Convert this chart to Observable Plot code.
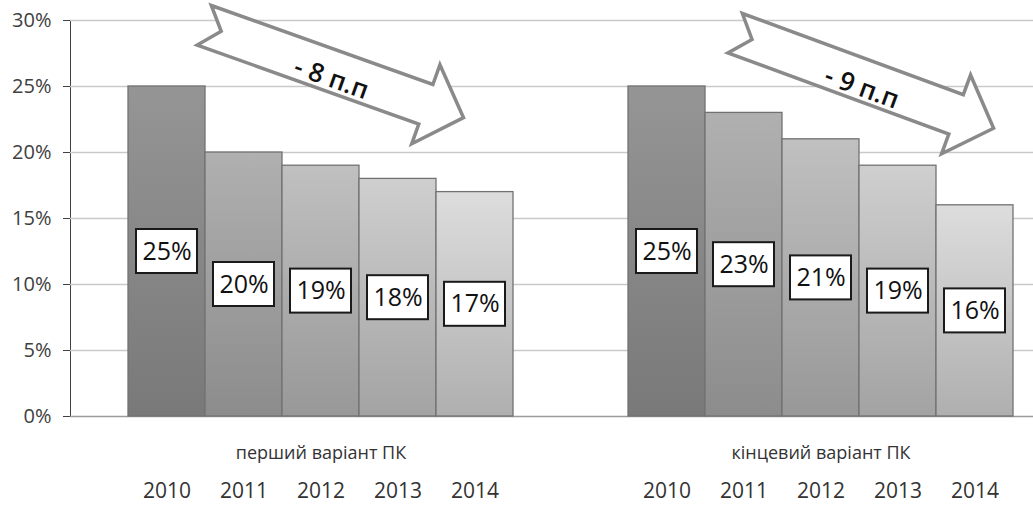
<!DOCTYPE html>
<html>
<head>
<meta charset="utf-8">
<script src="https://cdn.jsdelivr.net/npm/d3@7"></script>
<script src="https://cdn.jsdelivr.net/npm/@observablehq/plot@0.6"></script>
<style>
  html, body { margin: 0; padding: 0; background: #fff; }
  #chart svg { display: block; }
  #chart svg [aria-label^="y-axis"] { font-size: 20px; }
</style>
</head>
<body>
<div id="chart"></div>
<script>
const groups = ["перший варіант ПК", "кінцевий варіант ПК"];
const years = ["2010", "2011", "2012", "2013", "2014"];
const firstVariant = [25, 20, 19, 18, 17];
const finalVariant = [25, 23, 21, 19, 16];
const yTicks = [0, 5, 10, 15, 20, 25, 30];
const barTop = ["#959595", "#b0b0b0", "#c0c0c0", "#cfcfcf", "#dddddd"];
const barBottom = ["#797979", "#8c8c8c", "#989898", "#a3a3a3", "#afafaf"];
const arrowLabels = ["- 8 п.п", "- 9 п.п"];
const arrowTail = [{year: "2010", frac: 1.0, v: 29.6}, {year: "2011", frac: 0.4, v: 29.0}];
const arrowTip = [{year: "2014", frac: 0.36, v: 22.6}, {year: "2014", frac: 0.75, v: 21.8}];

const rows = [];
years.forEach((y, i) => rows.push({group: groups[0], year: y, v: firstVariant[i]}));
years.forEach((y, i) => rows.push({group: groups[1], year: y, v: finalVariant[i]}));

const plot = Plot.plot({
  width: 1033,
  height: 509,
  marginTop: 20,
  marginBottom: 93,
  marginLeft: 70,
  marginRight: -37,
  style: {fontFamily: "'Open Sans', sans-serif", fontSize: "19px", color: "#404040", background: "#fff"},
  facet: {data: rows, x: "group"},
  fx: {domain: groups, padding: 0, axis: null},
  x: {domain: years, paddingInner: 0, paddingOuter: 0.74, axis: null},
  y: {domain: [0, 30], ticks: yTicks, tickFormat: d => d + "%", tickSize: 7, tickPadding: 12, line: true, label: null},
  color: {type: "identity"},
  marks: [
    Plot.ruleY(yTicks.filter(t => t > 0), {stroke: "#c9c9c9", strokeWidth: 1.7}),
    Plot.ruleY([0], {stroke: "#9c9c9c", strokeWidth: 1.7}),
    Plot.barY(rows, {x: "year", y: "v", fill: d => `url(#bar-${d.year})`, stroke: "#727272", strokeWidth: 1.3}),
    Plot.barY(rows, {x: "year", y1: d => d.v / 2, y2: d => d.v / 2, insetTop: -22, insetBottom: -22, insetLeft: 8, insetRight: 8, fill: "white", stroke: "#1a1a1a", strokeWidth: 2}),
    Plot.text(rows, {x: "year", y: d => d.v / 2, text: d => d.v + "%", fontSize: 25, fill: "#111"}),
    Plot.text(rows, {filter: d => d.year === "2012", x: "year", text: "group", frameAnchor: "bottom", dy: 42, fontSize: 18, fill: "#333"}),
    Plot.text(rows, {x: "year", text: "year", frameAnchor: "bottom", dy: 81, fontSize: 21, fill: "#333"})
  ]
});

document.getElementById("chart").appendChild(plot);
const svg = plot.tagName.toLowerCase() === "svg" ? plot : plot.querySelector("svg");
const ns = "http://www.w3.org/2000/svg";
const defs = document.createElementNS(ns, "defs");
years.forEach((y, i) => {
  const g = document.createElementNS(ns, "linearGradient");
  g.setAttribute("id", "bar-" + y);
  g.setAttribute("x1", "0"); g.setAttribute("y1", "0");
  g.setAttribute("x2", "0"); g.setAttribute("y2", "1");
  [[0, barTop[i]], [1, barBottom[i]]].forEach(([o, c]) => {
    const s = document.createElementNS(ns, "stop");
    s.setAttribute("offset", o);
    s.setAttribute("stop-color", c);
    g.appendChild(s);
  });
  defs.appendChild(g);
});
svg.insertBefore(defs, svg.firstChild);

// annotation arrows positioned through the plot's scales
function band(s) {
  return d3.scaleBand(s.domain, s.range)
    .paddingInner(s.paddingInner ?? s.padding ?? 0)
    .paddingOuter(s.paddingOuter ?? s.padding ?? 0)
    .align(s.align ?? 0.5);
}
const fxB = band(plot.scale("fx"));
const xB = band(plot.scale("x"));
const yS = plot.scale("y");
const yF = yS.apply ? yS.apply : d3.scaleLinear(yS.domain, yS.range);
const px = (g, a) => fxB(g) + xB(a.year) - xB.range()[0] + a.frac * xB.bandwidth();

const arrows = document.createElementNS(ns, "g");
groups.forEach((g, i) => {
  const T = [px(g, arrowTail[i]), yF(arrowTail[i].v)];
  const P = [px(g, arrowTip[i]), yF(arrowTip[i].v)];
  const dx = P[0] - T[0], dy = P[1] - T[1];
  const len = Math.hypot(dx, dy);
  const u = [dx / len, dy / len], n = [-u[1], u[0]];
  const w = 21, h = 42, L = 40, dn = 18;
  const pt = (base, a, b) => [base[0] + a * u[0] + b * n[0], base[1] + a * u[1] + b * n[1]];
  const pts = [pt(T, 0, -w), pt(P, -L, -w), pt(P, -L, -h), P, pt(P, -L, h), pt(P, -L, w), pt(T, 0, w), pt(T, dn, 0)];
  const poly = document.createElementNS(ns, "polygon");
  poly.setAttribute("points", pts.map(p => p.join(",")).join(" "));
  poly.setAttribute("fill", "#fff");
  poly.setAttribute("stroke", "#8a8a8a");
  poly.setAttribute("stroke-width", "3.5");
  arrows.appendChild(poly);
  const c = pt([(T[0] + P[0]) / 2, (T[1] + P[1]) / 2], 0, 6);
  const t = document.createElementNS(ns, "text");
  t.setAttribute("transform", `translate(${c[0]},${c[1]}) rotate(${Math.atan2(dy, dx) * 180 / Math.PI})`);
  t.setAttribute("text-anchor", "middle");
  t.setAttribute("dominant-baseline", "central");
  t.setAttribute("font-size", "26");
  t.setAttribute("font-weight", "600");
  t.setAttribute("font-family", "'Open Sans', sans-serif");
  t.setAttribute("fill", "#111");
  t.textContent = arrowLabels[i];
  arrows.appendChild(t);
});
svg.appendChild(arrows);
</script>
</body>
</html>
